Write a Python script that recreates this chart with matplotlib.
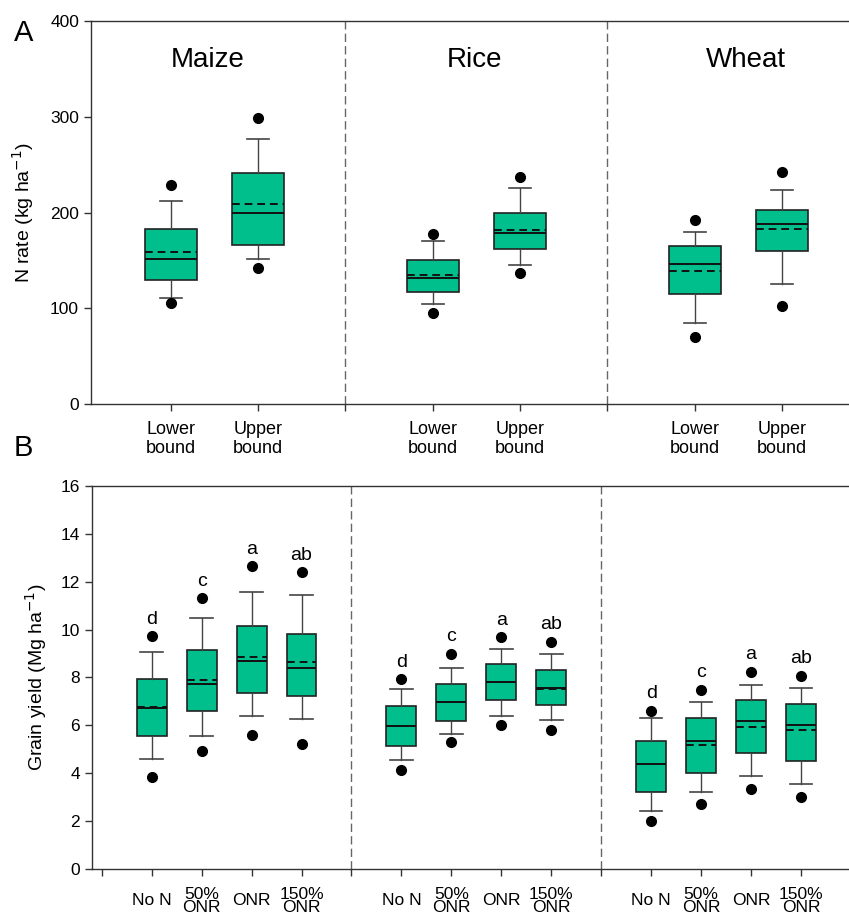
import numpy as np
import matplotlib.pyplot as plt

plt.rcParams['font.family'] = ['Liberation Sans', 'DejaVu Sans']

# Panel A: N rate (kg/ha), Lower / Upper bound for each crop
crops = ['Maize', 'Rice', 'Wheat']
bound_labels = ['Lower\nbound', 'Upper\nbound']
# order: maize low, maize up, rice low, rice up, wheat low, wheat up
a_whislo = [111, 151, 104, 145, 85, 125]
a_q1 = [129, 166, 117, 162, 115, 160]
a_med = [151, 200, 132, 179, 146, 188]
a_mean = [159, 209, 135, 182, 139, 183]
a_q3 = [183, 241, 150, 199, 165, 203]
a_whishi = [212, 277, 170, 226, 180, 223]
a_out_lo = [105, 142, 95, 137, 70, 102]
a_out_hi = [229, 299, 178, 237, 192, 242]

# Panel B: grain yield (Mg/ha), 4 treatments per crop
treat_labels = ['No N', '50%\nONR', 'ONR', '150%\nONR']
b_whislo = [4.58, 5.57, 6.39, 6.27, 4.56, 5.66, 6.40, 6.23, 2.42, 3.23, 3.90, 3.56]
b_q1 = [5.57, 6.58, 7.37, 7.23, 5.15, 6.19, 7.08, 6.85, 3.21, 4.01, 4.84, 4.51]
b_med = [6.71, 7.74, 8.70, 8.40, 5.98, 6.98, 7.83, 7.55, 4.37, 5.36, 6.19, 6.02]
b_mean = [6.76, 7.90, 8.85, 8.63, 5.98, 6.98, 7.83, 7.53, 4.37, 5.18, 5.95, 5.79]
b_q3 = [7.93, 9.15, 10.16, 9.82, 6.80, 7.74, 8.58, 8.33, 5.36, 6.29, 7.07, 6.90]
b_whishi = [9.06, 10.48, 11.55, 11.46, 7.50, 8.40, 9.17, 9.00, 6.29, 6.96, 7.68, 7.58]
b_out_lo = [3.83, 4.91, 5.61, 5.22, 4.15, 5.30, 6.00, 5.80, 1.99, 2.73, 3.33, 2.99]
b_out_hi = [9.73, 11.30, 12.65, 12.41, 7.94, 8.99, 9.68, 9.49, 6.62, 7.49, 8.24, 8.08]
b_letters = ['d', 'c', 'a', 'ab'] * 3

fill = '#00BF8C'
sep_color = '#666666'


def make_stats(whislo, q1, med, mean, q3, whishi, lo, hi):
    stats = []
    for i in range(len(med)):
        stats.append({'whislo': whislo[i], 'q1': q1[i], 'med': med[i], 'mean': mean[i],
                      'q3': q3[i], 'whishi': whishi[i], 'fliers': [lo[i], hi[i]]})
    return stats


def style_axis(ax):
    ax.spines['right'].set_visible(False)
    for s in ['left', 'bottom', 'top']:
        ax.spines[s].set_color('#333333')
        ax.spines[s].set_linewidth(1.0)
    ax.tick_params(direction='out', length=5, width=1, color='#333333', labelsize=12.5)


box_kw = dict(patch_artist=True, showmeans=True, meanline=True,
              boxprops=dict(facecolor=fill, edgecolor='#222222', linewidth=1.2),
              medianprops=dict(color='#111111', linewidth=1.4),
              meanprops=dict(color='#111111', linewidth=1.4, linestyle=(0, (4, 2.5))),
              whiskerprops=dict(color='#444444', linewidth=1.0),
              capprops=dict(color='#444444', linewidth=1.2),
              flierprops=dict(marker='o', markerfacecolor='black', markeredgecolor='black',
                              markersize=7))

fig = plt.figure(figsize=(8.49, 9.19), dpi=100)

# ---- Panel A ----
axA = fig.add_axes([0.107, 0.5604, 0.893, 0.4167])
posA = [1, 2, 4, 5, 7, 8]
statsA = make_stats(a_whislo, a_q1, a_med, a_mean, a_q3, a_whishi, a_out_lo, a_out_hi)
axA.bxp(statsA, positions=posA, widths=0.6, capwidths=0.25, **box_kw)
for x in [3, 6, 9]:
    axA.axvline(x, color=sep_color, linewidth=1.0, linestyle=(0, (6, 3)))
axA.set_xlim(0.084, 8.766)
axA.set_ylim(0, 400)
axA.set_yticks([0, 100, 200, 300, 400])
axA.set_xticks([1, 2, 3, 4, 5, 6, 7, 8])
axA.set_xticklabels(bound_labels + [''] + bound_labels + [''] + bound_labels, fontsize=13,
                    linespacing=1.15)
axA.tick_params(axis='x', pad=7)
axA.set_ylabel('N rate (kg ha$^{-1}$)', fontsize=14, labelpad=10)
for name, xc in zip(crops, [1.42, 4.48, 7.58]):
    axA.text(xc, 359, name, ha='center', va='center', fontsize=20)
style_axis(axA)
axA.tick_params(axis='x', labelsize=13)

# ---- Panel B ----
axB = fig.add_axes([0.108, 0.0544, 0.892, 0.4168])
posB = [1, 2, 3, 4, 6, 7, 8, 9, 11, 12, 13, 14]
statsB = make_stats(b_whislo, b_q1, b_med, b_mean, b_q3, b_whishi, b_out_lo, b_out_hi)
axB.bxp(statsB, positions=posB, widths=0.6, capwidths=0.45, **box_kw)
for x in [5, 10, 15]:
    axB.axvline(x, color=sep_color, linewidth=1.0, linestyle=(0, (6, 3)))
for x, hi, lab in zip(posB, b_out_hi, b_letters):
    axB.text(x, hi + 0.35, lab, ha='center', va='bottom', fontsize=14)
axB.set_xlim(-0.2, 14.96)
axB.set_ylim(0, 16)
axB.set_yticks(np.arange(0, 17, 2))
axB.set_xticks(np.arange(0, 15))
axB.set_xticklabels([''] + treat_labels + [''] + treat_labels + [''] + treat_labels,
                    fontsize=12.5, linespacing=0.9, va='center')
axB.tick_params(axis='x', pad=18)
axB.set_ylabel('Grain yield (Mg ha$^{-1}$)', fontsize=14, labelpad=8)
style_axis(axB)

fig.text(0.017, 0.964, 'A', fontsize=21, ha='left', va='center')
fig.text(0.016, 0.512, 'B', fontsize=21, ha='left', va='center')

fig.savefig('out.png', dpi=100)
